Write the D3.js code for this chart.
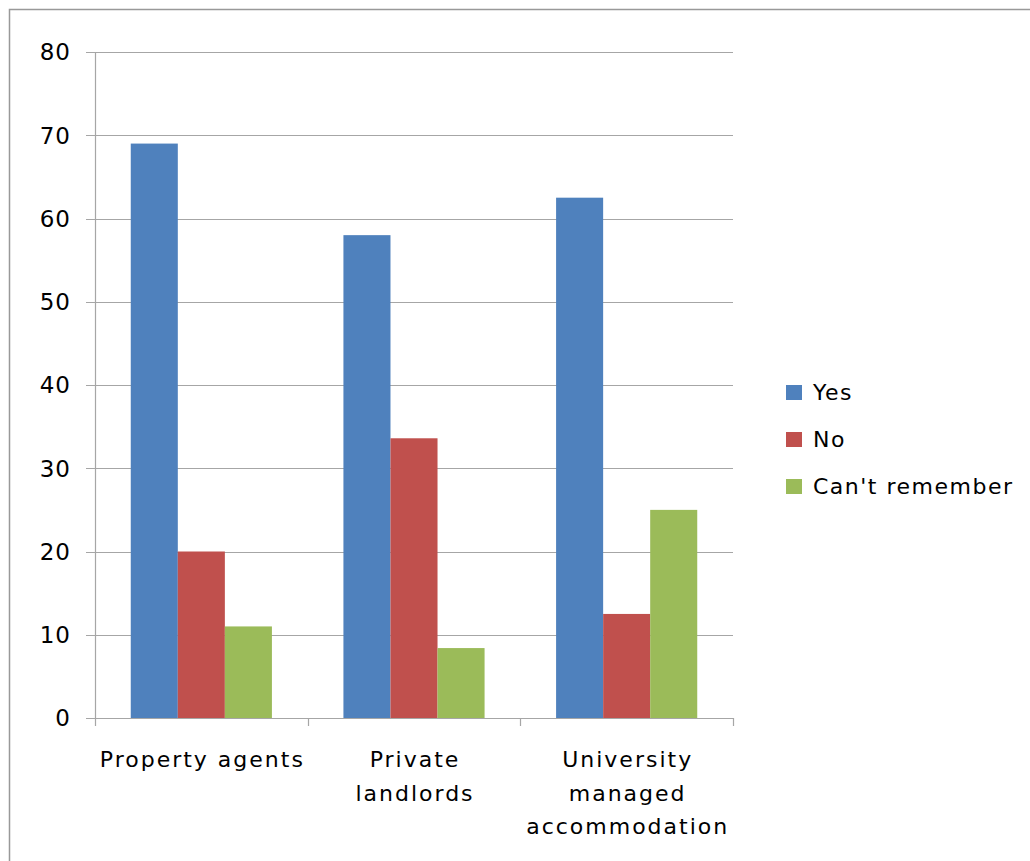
<!DOCTYPE html>
<html><head><meta charset="utf-8">
<script src="https://cdn.jsdelivr.net/npm/d3@7"></script>
<style>
body{margin:0;background:#fff;}
text{font-family:"DejaVu Sans",sans-serif;fill:#000;}
</style></head>
<body>
<svg id="c" width="1030" height="861"></svg>
<script>
const categories = [["Property agents"], ["Private", "landlords"], ["University", "managed", "accommodation"]];
const categoryKeys = ["Property agents", "Private landlords", "University managed accommodation"];
const seriesNames = ["Yes", "No", "Can't remember"];
const yesValues = [69, 58, 62.5];
const noValues = [20, 33.6, 12.5];
const cantValues = [11, 8.4, 25];
const yTicks = [0, 10, 20, 30, 40, 50, 60, 70, 80];
const colors = ["#4F81BD", "#C0504D", "#9BBB59"];

(function () {
const seriesValues = [yesValues, noValues, cantValues];
const svg = d3.select("#c");

// outer chart border
svg.append("rect").attr("x", 9.5).attr("y", 9.5).attr("width", 1040).attr("height", 880)
  .attr("fill", "none").attr("stroke", "#999").attr("stroke-width", 1.5);

const pL = 95, pR = 733, pT = 52, pB = 718;
const y = d3.scaleLinear().domain([0, 80]).range([pB, pT]);
const x0 = d3.scaleBand().domain(categoryKeys).range([pL, pR]).padding(0);
const x1 = d3.scaleBand().domain(seriesNames).range([0, x0.bandwidth()]).paddingInner(0).paddingOuter(0.76);

// gridlines
svg.append("g").selectAll("line").data(yTicks).join("line")
  .attr("x1", pL - 9).attr("x2", pR)
  .attr("y1", d => Math.round(y(d)) + 0.5).attr("y2", d => Math.round(y(d)) + 0.5)
  .attr("stroke", "#A6A6A6").attr("stroke-width", 1.2);

// y axis line
svg.append("line").attr("x1", pL + 0.5).attr("x2", pL + 0.5).attr("y1", pT).attr("y2", pB + 1)
  .attr("stroke", "#A6A6A6").attr("stroke-width", 1.2);

// y labels
svg.append("g").selectAll("text").data(yTicks).join("text")
  .attr("x", 71).attr("y", d => y(d)).attr("dy", "0.36em")
  .attr("text-anchor", "end").style("font-size", "23px").style("letter-spacing", "1px")
  .text(d => d);

// bars
const rows = [];
categoryKeys.forEach((c, i) => seriesNames.forEach((s, j) => rows.push({c, s, v: seriesValues[j][i], j})));
svg.append("g").selectAll("rect").data(rows).join("rect")
  .attr("x", d => x0(d.c) + x1(d.s))
  .attr("width", x1.bandwidth())
  .attr("y", d => y(d.v))
  .attr("height", d => y(0) - y(d.v))
  .attr("fill", d => colors[d.j]);

// x axis line and ticks
svg.append("line").attr("x1", pL).attr("x2", pR).attr("y1", pB + 0.5).attr("y2", pB + 0.5)
  .attr("stroke", "#A6A6A6").attr("stroke-width", 1.2);
const bounds = categoryKeys.map(c => x0(c)).concat([pR]);
svg.append("g").selectAll("line").data(bounds).join("line")
  .attr("x1", d => Math.round(d) + 0.5).attr("x2", d => Math.round(d) + 0.5)
  .attr("y1", pB).attr("y2", pB + 8)
  .attr("stroke", "#A6A6A6").attr("stroke-width", 1.2);

// category labels
const lab = svg.append("g").selectAll("text").data(categoryKeys).join("text")
  .attr("text-anchor", "middle").style("font-size", "22px").style("letter-spacing", "2px")
  .attr("transform", d => `translate(${x0(d) + x0.bandwidth() / 2 + 1},0)`);
lab.each(function(d, i) {
  d3.select(this).selectAll("tspan").data(categories[i]).join("tspan")
    .attr("x", 0).attr("y", (t, k) => 767 + k * 33.5).text(t => t);
});

// legend
const lg = svg.append("g").selectAll("g").data(seriesNames).join("g")
  .attr("transform", (d, i) => `translate(786,${392 + i * 47})`);
lg.append("rect").attr("x", 0).attr("y", -7).attr("width", 16).attr("height", 15)
  .attr("fill", (d, i) => colors[i]);
lg.append("text").attr("x", 27).attr("y", 0).attr("dy", "0.36em")
  .style("font-size", "22px").style("letter-spacing", "1.5px").text(d => d);
})();
</script>
</body></html>
